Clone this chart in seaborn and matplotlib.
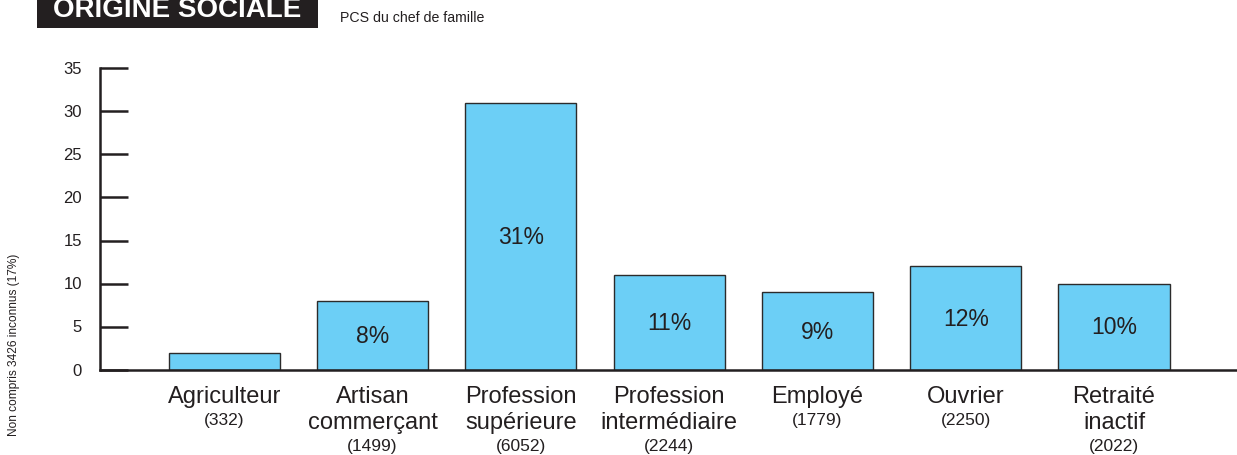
import matplotlib
matplotlib.use("Agg")
import matplotlib.pyplot as plt
import seaborn as sns
from matplotlib.patches import Rectangle

categories = ["Agriculteur", "Artisan\ncommerçant", "Profession\nsupérieure",
              "Profession\nintermédiaire", "Employé", "Ouvrier", "Retraité\ninactif"]
values = [2, 8, 31, 11, 9, 12, 10]
counts = ["(332)", "(1499)", "(6052)", "(2244)", "(1779)", "(2250)", "(2022)"]
pct_labels = ["", "8%", "31%", "11%", "9%", "12%", "10%"]
yticks = [0, 5, 10, 15, 20, 25, 30, 35]

sns.set_style("white")
plt.rcParams["font.family"] = ["Liberation Sans", "DejaVu Sans"]

W, H = 1237, 456
fig = plt.figure(figsize=(W / 100, H / 100), dpi=100)
ax = fig.add_axes([100 / W, 1 - 371 / H, 1 - 100 / W, (371 - 69) / H])

sns.barplot(x=categories, y=values, color="#6ccff6", saturation=1,
            edgecolor="#2b2b2b", linewidth=1.0, width=0.75, ax=ax)

ax.set_xlim(-0.8375, 6.829)
ax.set_ylim(0, 35)
ax.set_yticks(yticks)
ax.tick_params(axis="y", left=True, direction="in", length=20, width=1.8,
               color="#231f20", labelsize=12, pad=13, labelcolor="#231f20")
ax.tick_params(axis="x", bottom=False, length=0, labelsize=17, pad=11,
               labelcolor="#231f20")
for lab in ax.get_xticklabels():
    lab.set_linespacing(1.22)
for lab in ax.get_yticklabels():
    lab.set_verticalalignment("center")
ax.set_xlabel("")
ax.set_ylabel("")

for side in ["top", "right"]:
    ax.spines[side].set_visible(False)
for side in ["left", "bottom"]:
    ax.spines[side].set_linewidth(1.8)
    ax.spines[side].set_color("#231f20")

# percentages in the middle of the bars
for i, (v, t) in enumerate(zip(values, pct_labels)):
    if t:
        ax.text(i, v / 2, t, ha="center", va="center", fontsize=16.5, color="#231f20")

# counts below the category names
for i, (name, c) in enumerate(zip(categories, counts)):
    nlines = name.count("\n") + 1
    off = -30 - 19 * (nlines - 1)
    ax.annotate(c, xy=(i, 0), xycoords=("data", "axes fraction"),
                xytext=(0, off), textcoords="offset points",
                ha="center", va="top", fontsize=12.5, color="#231f20")

# title block
fig.add_artist(Rectangle((37 / W, 1 - 29 / H), (318 - 37) / W, 29 / H,
                         transform=fig.transFigure, facecolor="#231f20",
                         edgecolor="none"))
fig.text(177 / W, 1 - 17 / H, "ORIGINE SOCIALE", ha="center", va="baseline",
         fontsize=20, fontweight="bold", color="white")
fig.text(340 / W, 1 - 22 / H, "PCS du chef de famille", ha="left", va="baseline",
         fontsize=10.2, color="#231f20")
fig.text(14 / W, 1 - 345 / H, "Non compris 3426 inconnus (17%)", rotation=90,
         ha="center", va="center", fontsize=8.6, color="#231f20")

fig.savefig("out.png", dpi=100)
